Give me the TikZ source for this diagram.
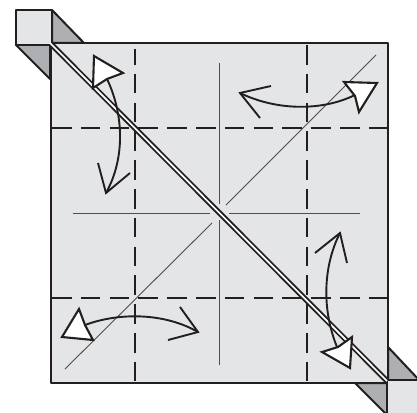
\documentclass[tikz,border=0pt]{standalone}
\begin{document}
\begin{tikzpicture}[x=1pt,y=-1pt,
 paper/.style={fill=paperc,draw=inkc,line width=2pt,line join=round},
 flap/.style={fill=flapc,draw=inkc,line width=2pt,line join=round},
 crease/.style={draw=inkc,line width=2pt,dash pattern=on 19.5pt off 9.3pt},
 thinline/.style={draw=inkc!80!white,line width=0.9pt},
 arrowline/.style={draw=inkc,line width=1.9pt,line cap=butt,line join=miter},
 headw/.style={fill=white,draw=inkc,line width=2.1pt,line join=miter}]
\definecolor{paperc}{HTML}{E4E5E7}
\definecolor{flapc}{HTML}{AEAFB2}
\definecolor{inkc}{HTML}{231F20}
\useasboundingbox (0,0) rectangle (417,412);
\begin{scope}
\clip (0,0) rectangle (417,412);
\path[flap] (52,10) -- (84,43) -- (52,43) -- cycle;
\path[flap] (16,45) -- (50,79) -- (50,45) -- cycle;
\path[flap] (388,347) -- (420,381) -- (388,381) -- cycle;
\path[flap] (355,383) -- (388,416) -- (388,383) -- cycle;
\path[paper] (51,43.5) rectangle (387.5,382.5);
\path[paper] (16,10) rectangle (52,45);
\path[paper] (387,380) rectangle (425,420);
\path[thinline] (219,63) -- (219,204) (219,220) -- (219,365);
\path[thinline] (73,213) -- (210,213) (229,213) -- (360,213);
\path[thinline] (376,55) -- (226,205) (65,369) -- (212,223);
\path[crease,dash phase=4pt] (134.5,49) -- (134.5,381);
\path[crease] (307,45) -- (307,381);
\path[crease] (52,127.5) -- (387,127.5);
\path[crease] (52,298) -- (387,298);
\path[draw=inkc,line width=5.4pt] (52,45) -- (387,381);
\path[draw=white,line width=1.7pt] (50,43) -- (387,381);
% top-left arrow
\path[arrowline] (107,79) .. controls (122,110) and (127,155) .. (106,193);
\path[arrowline] (98,163) -- (106,193) -- (130,173);
\path[headw] (94,56) -- (123,73) -- (107,79) -- (93,88) -- cycle;
% top-right arrow
\path[arrowline] (240,93) .. controls (275,110) and (320,112) .. (355,95);
\path[arrowline] (271,86) -- (240,93) -- (260,118);
\path[headw] (344,82) -- (377,83) -- (359,112) -- (355,96) -- cycle;
% bottom-left arrow
\path[arrowline] (85,325) .. controls (120,312) and (165,313) .. (198,332);
\path[arrowline] (180,307) -- (198,332) -- (168,340);
\path[headw] (79,309) -- (62,337) -- (93,340) -- (85,325) -- cycle;
% bottom-right arrow
\path[arrowline] (340,233) .. controls (325,262) and (320,305) .. (337,347);
\path[arrowline] (315,253) -- (340,233) -- (347,263);
\path[headw] (352,337) -- (350,368) -- (322,352) -- (338,347) -- cycle;
\end{scope}
\end{tikzpicture}
\end{document}
